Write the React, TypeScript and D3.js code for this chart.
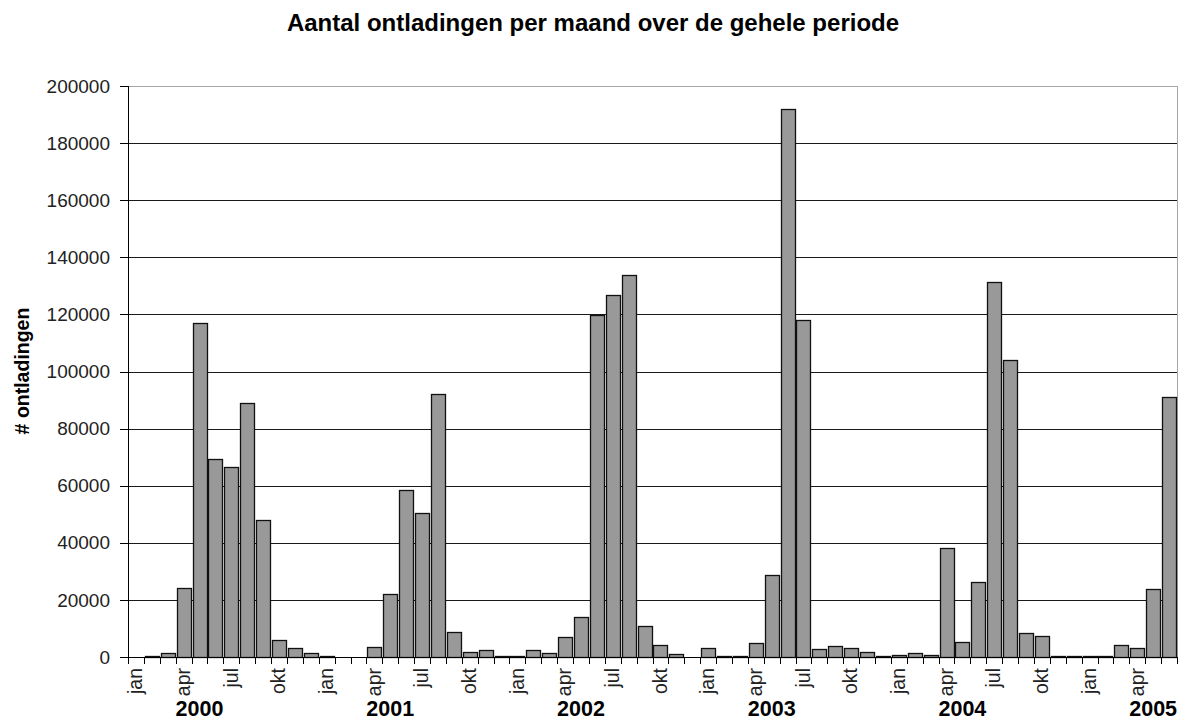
import React from "react";
import * as d3 from "d3";

const monthNames = ["jan", "feb", "mrt", "apr", "mei", "jun", "jul", "aug", "sep", "okt", "nov", "dec"];
const years = [2000, 2001, 2002, 2003, 2004, 2005];
const shownMonths = ["jan", "apr", "jul", "okt"];
const yearLabelMonth = "mei";

// aantal ontladingen per maand, jan 2000 t/m jun 2005
const values = [
  0, 400, 1300, 24300, 117100, 69400, 66400, 89000, 48100, 6100, 3000, 1300,
  500, 0, 0, 3500, 21900, 58600, 50300, 92100, 8800, 1750, 2300, 400,
  400, 2300, 1300, 7000, 13900, 119700, 126900, 133900, 10900, 4300, 900, 0,
  3000, 400, 400, 4900, 28800, 191800, 118100, 2700, 3900, 3000, 1750, 400,
  800, 1300, 800, 38300, 5300, 26100, 131200, 104200, 8300, 7400, 300, 300,
  300, 300, 4300, 3000, 23900, 90900,
];
const yTicks = [0, 20000, 40000, 60000, 80000, 100000, 120000, 140000, 160000, 180000, 200000];

const title = "Aantal ontladingen per maand over de gehele periode";
const yTitle = "# ontladingen";

const categories = values.map((_, i) => ({
  key: `${monthNames[i % 12]}-${years[Math.floor(i / 12)]}`,
  month: monthNames[i % 12],
  year: years[Math.floor(i / 12)],
  value: values[i],
}));

const W = 1188;
const H = 722;
const margin = { left: 128, right: 11, top: 86, bottom: 65 };
const font = "'Liberation Sans', Arial, sans-serif";

const App = () => {
  const x = d3
    .scaleBand()
    .domain(categories.map((d) => d.key))
    .range([margin.left, W - margin.right])
    .paddingInner(0.12)
    .paddingOuter(0.06);
  const y = d3.scaleLinear().domain([0, 200000]).range([H - margin.bottom, margin.top]);

  const x0 = margin.left;
  const x1 = W - margin.right;
  const y0 = y(0);
  const step = x.step();
  const bounds = d3.range(categories.length + 1).map((i) => x0 + i * step);

  return (
    <svg
      width={W}
      height={H}
      style={{ position: "absolute", left: 0, top: 0, background: "#fff" }}
      fontFamily={font}
    >
      <text x={593} y={31} textAnchor="middle" fontWeight="bold" fontSize={24}>
        {title}
      </text>

      {/* gridlines */}
      {yTicks.map((t) => (
        <line
          key={t}
          x1={x0}
          x2={x1}
          y1={Math.round(y(t)) + 0.5}
          y2={Math.round(y(t)) + 0.5}
          stroke={t === 200000 ? "#a6a6a6" : "#1a1a1a"}
          strokeWidth={1}
        />
      ))}
      <line x1={x1 + 0.5} x2={x1 + 0.5} y1={y(200000)} y2={y0} stroke="#a6a6a6" />

      {/* bars */}
      {categories
        .filter((d) => d.value > 0)
        .map((d) => (
          <rect
            key={d.key}
            x={Math.round(x(d.key)!) + 0.5}
            y={Math.round(y(d.value)) + 0.5}
            width={Math.round(x.bandwidth())}
            height={Math.round(y0) - Math.round(y(d.value))}
            fill="#999999"
            stroke="#111"
            strokeWidth={1.3}
          />
        ))}

      {/* y axis */}
      <line x1={x0 + 0.5} x2={x0 + 0.5} y1={y(200000)} y2={y0 + 0.5} stroke="#000" />
      {yTicks.map((t) => (
        <g key={t}>
          <line x1={x0 - 8} x2={x0} y1={Math.round(y(t)) + 0.5} y2={Math.round(y(t)) + 0.5} stroke="#000" />
          <text x={110} y={y(t)} dy="0.35em" textAnchor="end" fontSize={19} fill="#222">
            {t}
          </text>
        </g>
      ))}
      <text
        transform={`translate(29, ${371}) rotate(-90)`}
        textAnchor="middle"
        fontWeight="bold"
        fontSize={19.5}
      >
        {yTitle}
      </text>

      {/* x axis */}
      <line x1={x0} x2={x1 + 1} y1={Math.round(y0) + 0.5} y2={Math.round(y0) + 0.5} stroke="#000" />
      {bounds.map((b, i) => (
        <line key={i} x1={Math.round(b) + 0.5} x2={Math.round(b) + 0.5} y1={y0} y2={y0 + 7} stroke="#000" />
      ))}
      {categories
        .filter((d) => shownMonths.includes(d.month))
        .map((d) => {
          const cx = x(d.key)! + x.bandwidth() / 2;
          return (
            <text
              key={d.key}
              transform={`translate(${cx}, 668) rotate(-90)`}
              textAnchor="end"
              dy="0.32em"
              fontSize={19.5}
              fill="#222"
            >
              {d.month}
            </text>
          );
        })}
      {categories
        .filter((d) => d.month === yearLabelMonth)
        .map((d) => (
          <text
            key={d.key}
            x={x(d.key)! + x.bandwidth() / 2}
            y={716}
            textAnchor="middle"
            fontWeight="bold"
            fontSize={21.5}
          >
            {d.year}
          </text>
        ))}
    </svg>
  );
};

export default App;
